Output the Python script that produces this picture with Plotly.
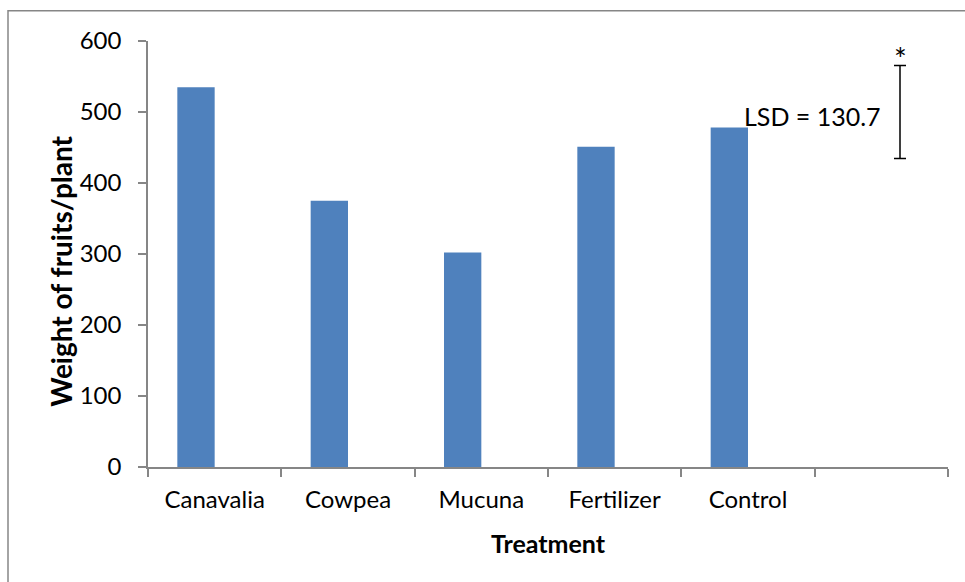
import plotly.graph_objects as go

# Fruit weight per plant by treatment
treatments = ["Canavalia", "Cowpea", "Mucuna", "Fertilizer", "Control", " "]
weights = [535, 375, 302, 451, 478, None]

# Least significant difference bar (drawn in the empty last slot)
lsd_value = 130.7
lsd_center = 500
lsd_slot = 5

FONT = "Lato"
AXIS_GRAY = "#868686"
BAR_BLUE = "#4f81bd"
BAR_W = 0.28

fig = go.Figure()

# First series of a two-series cluster: bars sit left of each slot centre
fig.add_trace(go.Bar(
    x=treatments,
    y=weights,
    width=BAR_W,
    offset=-BAR_W,
    marker=dict(color=BAR_BLUE, line=dict(width=0)),
    hoverinfo="x+y",
))

# LSD error bar in the second-series position on an overlaid numeric axis
lsd_x = lsd_slot + BAR_W / 2
fig.add_trace(go.Scatter(
    x=[lsd_x],
    y=[lsd_center],
    xaxis="x2",
    mode="markers",
    marker=dict(size=1, color="rgba(0,0,0,0)"),
    error_y=dict(type="constant", value=lsd_value / 2, color="black",
                 thickness=1.5, width=6),
    hoverinfo="skip",
))

fig.add_annotation(
    x=lsd_x, y=lsd_center + lsd_value / 2, xref="x2", yref="y",
    text="*", showarrow=False, yanchor="bottom", yshift=-12,
    font=dict(family=FONT, size=30, color="black"),
)
fig.add_annotation(
    x=lsd_x, y=lsd_center, xref="x2", yref="y",
    text=f"LSD = {lsd_value}", showarrow=False, xanchor="right",
    xshift=-17, yshift=-4,
    font=dict(family=FONT, size=25, color="black"),
)

# Vertical value-axis title, set slightly below the plot's middle
fig.add_annotation(
    x=-0.109, y=0.46, xref="paper", yref="paper",
    text="<b>Weight of fruits/plant</b>", textangle=-90, showarrow=False,
    xanchor="center", yanchor="middle",
    font=dict(family=FONT, size=28, color="black"),
)

# Chart-area frame
fig.add_shape(
    type="rect", xref="paper", yref="paper",
    x0=-0.175, x1=1.2, y0=-0.5, y1=1.071,
    line=dict(color=AXIS_GRAY, width=1.5), layer="below",
)

fig.update_layout(
    width=965, height=582,
    margin=dict(l=148, r=17, t=41, b=115),
    paper_bgcolor="white",
    plot_bgcolor="white",
    showlegend=False,
    font=dict(family=FONT, size=24, color="black"),
    xaxis=dict(
        type="category",
        categoryorder="array",
        categoryarray=treatments,
        range=[-0.5, 5.5],
        tickson="boundaries",
        ticks="outside", ticklen=8, tickwidth=1.5, tickcolor=AXIS_GRAY,
        ticklabelstandoff=10,
        showline=True, linecolor=AXIS_GRAY, linewidth=1.5,
        showgrid=False, zeroline=False,
        tickfont=dict(family=FONT, size=24, color="black"),
        title=dict(text="<b>Treatment</b>", standoff=24,
                   font=dict(family=FONT, size=25, color="black")),
    ),
    xaxis2=dict(
        overlaying="x", range=[-0.5, 5.5], visible=False,
    ),
    yaxis=dict(
        range=[0, 600],
        tickvals=[0, 100, 200, 300, 400, 500, 600],
        ticks="outside", ticklen=8, tickwidth=1.5, tickcolor=AXIS_GRAY,
        ticklabelstandoff=12,
        showline=True, linecolor=AXIS_GRAY, linewidth=1.5,
        showgrid=False, zeroline=False,
        tickfont=dict(family=FONT, size=24, color="black"),
    ),
)

fig.write_html("out.html")
